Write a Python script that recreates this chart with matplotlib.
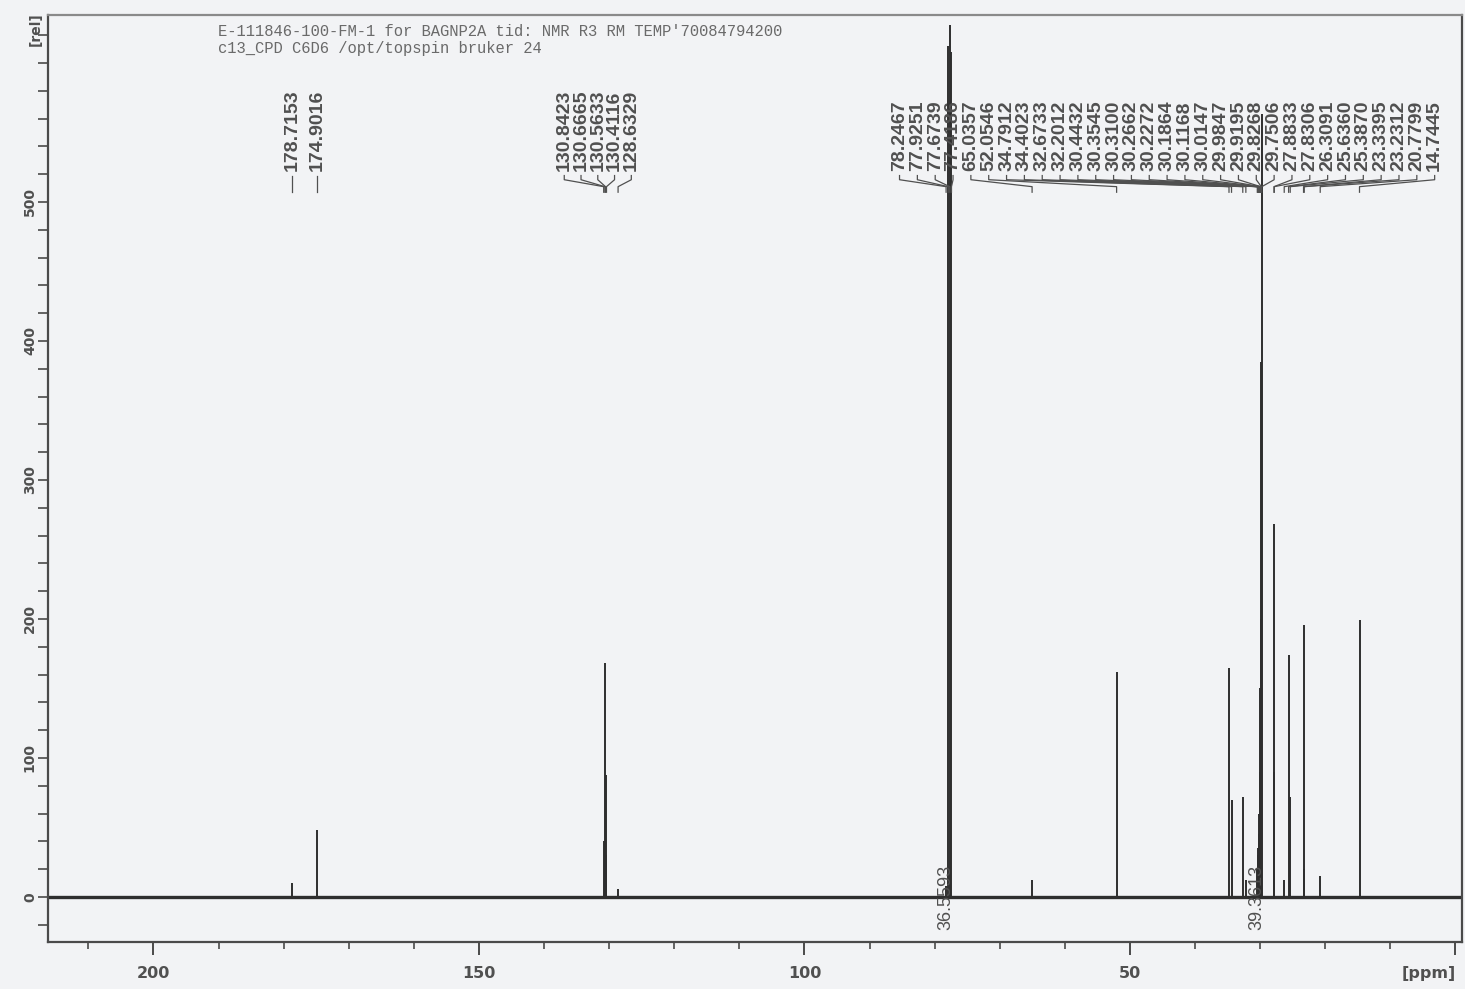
import matplotlib.pyplot as plt
from matplotlib.ticker import MultipleLocator
import numpy as np

# 13C peak picking (ppm) and peak intensities (rel)
peakShifts = [178.7153, 174.9016,
              130.8423, 130.6665, 130.5633, 130.4116, 128.6329,
              78.2467, 77.9251, 77.6739, 77.4186, 65.0357, 52.0546,
              34.7912, 34.4023, 32.6733, 32.2012,
              30.4432, 30.3545, 30.3100, 30.2662, 30.2272, 30.1864,
              30.1168, 30.0147, 29.9847, 29.9195, 29.8268, 29.7506,
              27.8833, 27.8306, 26.3091, 25.6360, 25.3870,
              23.3395, 23.2312, 20.7799, 14.7445]
peakHeights = [10, 48,
               40, 168, 88, 30, 6,
               8, 612, 627, 608, 12, 162,
               165, 70, 72, 12,
               20, 25, 35, 30, 40, 45,
               60, 90, 150, 200, 385, 563,
               268, 90, 12, 174, 72,
               196, 20, 15, 199]

# peaks that share one fan of label leaders
labelGroups = [[0], [1], list(range(2, 7)), list(range(7, 38))]
labelSpans = [None, None, (136.9, 126.6), (85.4, 3.2)]

# integrals printed across the baseline
integralShifts = [77.7, 29.9]
integralValues = ["36.5593", "39.3613"]

headerLines = ["E-111846-100-FM-1 for BAGNP2A tid: NMR R3 RM TEMP'70084794200",
               "c13_CPD C6D6 /opt/topspin bruker 24"]

inkColor = "#2e2e2e"
textColor = "#505050"
paperColor = "#f2f3f5"

fig = plt.figure(figsize=(14.65, 9.89), dpi=100, facecolor=paperColor)
ax = fig.add_axes([48 / 1465, 47 / 989, 1414 / 1465, 927 / 989])
ax.set_facecolor(paperColor)

ax.set_xlim(216.2, -1.0)
ax.set_ylim(-32.4, 634.5)

# spectrum as sticks on a baseline
ax.axhline(0, color=inkColor, lw=2.4, zorder=2)
ax.vlines(peakShifts, 0, peakHeights, color=inkColor, lw=1.4, zorder=3)

# peak labels with Bruker style leaders
labelFont = dict(family="Liberation Sans", size=14, color=textColor, weight="bold")
for group, span in zip(labelGroups, labelSpans):
    shifts = [peakShifts[i] for i in group]
    if span is None:
        labelPos = shifts
    else:
        labelPos = np.linspace(span[0], span[1], len(group))
    for xl, xp, i in zip(labelPos, shifts, group):
        ax.text(xl, 522, f"{peakShifts[i]:.4f}", rotation=90, ha="center", va="bottom",
                zorder=5, **labelFont)
        ax.plot([xl, xl, xp, xp], [519, 516, 511, 507], color=textColor, lw=0.9, zorder=4)

for xs, val in zip(integralShifts, integralValues):
    ax.text(xs + 0.6, 0, val, rotation=90, ha="center", va="center", fontsize=13,
            color=textColor, family="Liberation Sans", zorder=5)

# axes decoration
for side in ["left", "bottom", "top", "right"]:
    ax.spines[side].set_color("#4a4a4a")
    ax.spines[side].set_linewidth(1.6)
ax.spines["top"].set_color("#8a8a8a")

ax.xaxis.set_major_locator(MultipleLocator(50))
ax.xaxis.set_minor_locator(MultipleLocator(10))
ax.yaxis.set_major_locator(MultipleLocator(100))
ax.yaxis.set_minor_locator(MultipleLocator(20))

ax.tick_params(axis="x", which="major", length=9, width=1.4, color="#4a4a4a",
               pad=8, labelsize=11.5, labelcolor=textColor)
ax.tick_params(axis="x", which="minor", length=5, width=1.2, color="#4a4a4a")
ax.tick_params(axis="y", which="both", length=7, width=1.2, color="#4a4a4a",
               pad=1, labelsize=10, labelcolor=textColor)

xticks = [t for t in ax.get_xticks() if -1 <= t <= 216]
ax.set_xticks(xticks)
ax.set_xticklabels(["[ppm]" if t == 0 else f"{t:.0f}" for t in xticks], fontweight="bold")
for t, lab in zip(xticks, ax.get_xticklabels()):
    if t == 0:
        lab.set_horizontalalignment("right")

yticks = [t for t in ax.get_yticks() if 0 <= t <= 600]
ax.set_yticks(yticks)
ax.set_yticklabels(["" if t > 500 else f"{t:.0f}" for t in yticks], rotation=90,
                   va="center", fontweight="bold")
ax.text(-0.004, 0.985, "[rel]", transform=ax.transAxes, rotation=90, ha="right", va="center",
        fontsize=10, color=textColor, fontweight="bold")

for k, line in enumerate(headerLines):
    fig.text(218 / 1465, 1 - (32 + 17 * k) / 989, line, family="Liberation Mono",
             fontsize=11.2, color="#6a6a6a", va="center")

fig.savefig("out.png", dpi=100, facecolor=paperColor)
